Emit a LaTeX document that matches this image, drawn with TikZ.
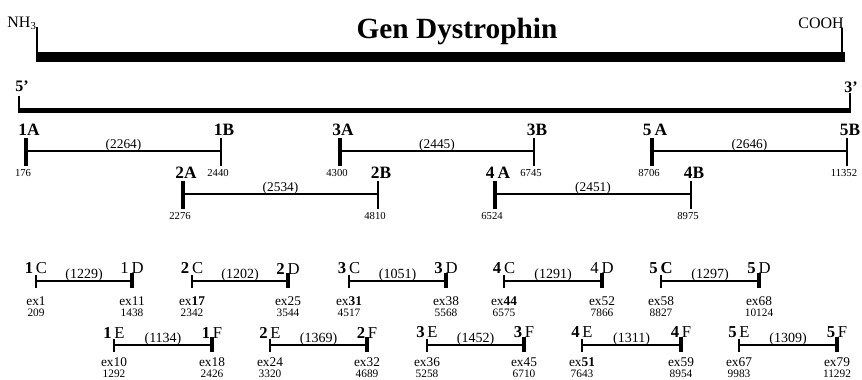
\documentclass[tikz,border=0pt]{standalone}
\usepackage{fontspec}
\setmainfont{Liberation Serif}
\usetikzlibrary{calc}
\newcommand{\fs}[1]{\fontsize{#1}{#1}\selectfont}
% A/B primer pair
\newcommand{\segAB}[9]{%
  \coordinate (#1L) at (#2,#4);
  \coordinate (#1R) at (#3,#4);
  \coordinate (#1Lt) at (#2,{#4-13.5});
  \coordinate (#1Lb) at (#2,{#4+15});
  \coordinate (#1Rt) at (#3,{#4-13.5});
  \coordinate (#1Rb) at (#3,{#4+15});
  \draw[thicktick] (#1Lt) -- (#1Lb);
  \draw[thintick] (#1Rt) -- (#1Rb);
  \draw[segline] (#1L) -- (#1R);
  \node[labAB] (#1Ln) at ({#2+3},{#4-21}) {#5};
  \node[labAB] (#1Rn) at ({#3+3},{#4-21}) {#6};
  \node[midAB] (#1M) at ({(#2+#3)/2},{#4+0.5}) {#7};
  \node[numAB] (#1Lx) at ({#2-3},{#4+22}) {#8};
  \node[numAB] (#1Rx) at ({#3-3},{#4+22}) {#9};
}
% C/D and E/F primer pair
\newcommand{\segCE}[9]{%
  \coordinate (#1L) at (#2,#4);
  \coordinate (#1R) at (#3,#4);
  \coordinate (#1Lt) at (#2,{#4-6.5});
  \coordinate (#1Lb) at (#2,{#4+7});
  \coordinate (#1Rt) at (#3,{#4-8});
  \coordinate (#1Rb) at (#3,{#4+7});
  \draw[thintick] (#1Lt) -- (#1Lb);
  \draw[thicktick] (#1Rt) -- (#1Rb);
  \draw[seglineb] (#1L) -- (#1R);
  \node[labCE] (#1Ln) at (#2,{#4-12.5}) {#5};
  \node[labCE] (#1Rn) at (#3,{#4-12.5}) {#6};
  \node[midCE] (#1M) at ({(#2+#3)/2},{#4+0.5}) {#7};
  \node[exlab] (#1Le) at ($(#1L)+(0,\exoff)$) {#8};
  \node[exlab] (#1Re) at ($(#1R)+(0,\exoff)$) {#9};
}
\newcommand{\numsCE}[3]{%
  \node[numCE] (#1Lx) at ($(#1L)+(0,\numoff)$) {#2};
  \node[numCE] (#1Rx) at ($(#1R)+(0,\numoff)$) {#3};
}
\newcommand{\exoff}{20}
\newcommand{\numoff}{32}
\begin{document}
\begin{tikzpicture}[x=0.75pt,y=-0.75pt,
  thicktick/.style={line width=2.4pt},
  thintick/.style={line width=0.9pt},
  segline/.style={line width=1.1pt},
  seglineb/.style={line width=1.5pt},
  labAB/.style={inner sep=0pt, font=\fs{13}\bfseries},
  labCE/.style={inner sep=0pt, font=\fs{12.5}},
  midAB/.style={inner sep=0pt, anchor=south, font=\fs{10}},
  midCE/.style={inner sep=0pt, anchor=south, font=\fs{10.5}},
  numAB/.style={inner sep=0pt, font=\fs{8}},
  exlab/.style={inner sep=0pt, font=\fs{10}},
  numCE/.style={inner sep=0pt, font=\fs{8.5}}]
\useasboundingbox (0,0) rectangle (862,379);

% protein bar
\node[anchor=base, font=\fs{22}\bfseries] (title) at (457,38) {Gen Dystrophin};
\node[anchor=base, font=\fs{12}] (nh) at (22,27) {NH\textsubscript{3}};
\node[anchor=base, font=\fs{12}] (cooh) at (821,28) {COOH};
\coordinate (nhT) at (37,27);
\coordinate (nhB) at (37,53);
\coordinate (coT) at (842,28);
\coordinate (coB) at (842,53);
\coordinate (barL) at (36,57);
\coordinate (barR) at (845,57);
\draw[line width=1.5pt] (nhT) -- (nhB);
\draw[line width=1.5pt] (coT) -- (coB);
\draw[line width=7.5pt] (barL) -- (barR);

% gene line
\node[font=\fs{12}\bfseries, inner sep=0pt] (p5) at (22,86) {5’};
\node[font=\fs{12}\bfseries, inner sep=0pt] (p3) at (851,87) {3’};
\coordinate (p5t) at (19,96);
\coordinate (p5b) at (19,110.5);
\coordinate (p3t) at (850,93);
\coordinate (p3b) at (850,110.5);
\draw[line width=2.2pt] (p5t) -- (p5b);
\draw[line width=2.2pt] (p3t) -- (p3b);
\draw[line width=3.2pt] ([xshift=-1.1pt]p5b) -- ([xshift=1.1pt]p3b);

% A/B primers
\segAB{s1}{26}{221}{151}{1A}{1B}{(2264)}{176}{2440}
\segAB{s3}{340}{534}{151}{3A}{3B}{(2445)}{4300}{6745}
\segAB{s5}{652}{847}{151}{5\,A}{5B}{(2646)}{8706}{11352}
\segAB{s2}{183}{378}{194}{2A}{2B}{(2534)}{2276}{4810}
\segAB{s4}{495}{691}{194}{4\,A}{4B}{(2451)}{6524}{8975}

% C/D primers
\segCE{c1}{36}{132}{281}{\textbf{1}\,C}{1\,D}{(1229)}{ex1}{ex11}
\segCE{c2}{192}{288}{281}{\textbf{2}\,C}{\textbf{2}\,D}{(1202)}{ex\textbf{17}}{ex25}
\segCE{c3}{349}{446}{281}{\textbf{3}\,C}{\textbf{3}\,D}{(1051)}{ex\textbf{31}}{ex38}
\segCE{c4}{504}{602}{281}{\textbf{4}\,C}{4\,D}{(1291)}{ex\textbf{44}}{ex52}
\segCE{c5}{661}{759}{281}{\textbf{5}\,\textbf{C}}{\textbf{5}\,D}{(1297)}{ex58}{ex68}
\numsCE{c1}{209}{1438}
\numsCE{c2}{2342}{3544}
\numsCE{c3}{4517}{5568}
\numsCE{c4}{6575}{7866}
\numsCE{c5}{8827}{10124}

% E/F primers
\renewcommand{\exoff}{17}
\renewcommand{\numoff}{28.5}
\segCE{e1}{114}{212}{345}{\textbf{1}\,E}{\textbf{1}\,F}{(1134)}{ex10}{ex18}
\segCE{e2}{270}{367}{345}{\textbf{2}\,E}{\textbf{2}\,F}{(1369)}{ex24}{ex32}
\segCE{e3}{427}{524}{345}{\textbf{3}\,E}{\textbf{3}\,F}{(1452)}{ex36}{ex45}
\segCE{e4}{582}{681}{345}{\textbf{4}\,E}{\textbf{4}\,F}{(1311)}{ex\textbf{51}}{ex59}
\segCE{e5}{739}{837}{345}{\textbf{5}\,E}{\textbf{5}\,F}{(1309)}{ex67}{ex79}
\numsCE{e1}{1292}{2426}
\numsCE{e2}{3320}{4689}
\numsCE{e3}{5258}{6710}
\numsCE{e4}{7643}{8954}
\numsCE{e5}{9983}{11292}
\end{tikzpicture}
\end{document}
